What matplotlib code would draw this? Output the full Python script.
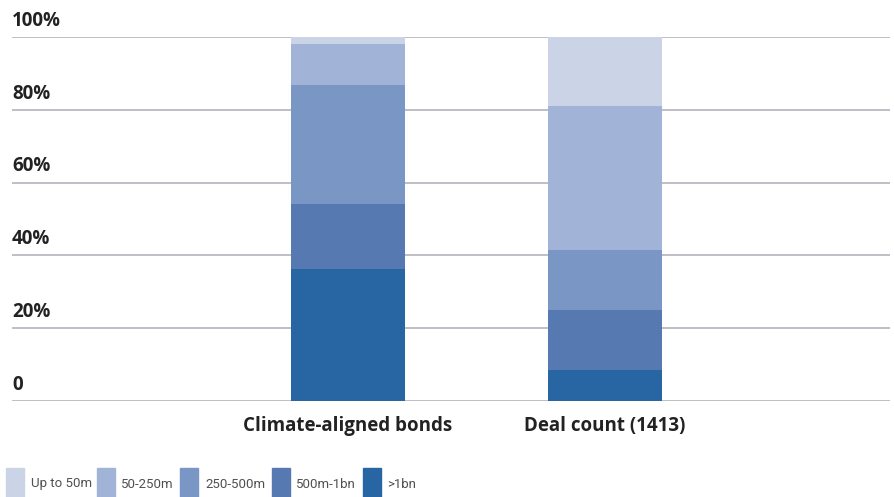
import matplotlib
matplotlib.use('Agg')
import matplotlib.pyplot as plt
from matplotlib.patches import Rectangle

# data (share of total, %)
categories = ['Climate-aligned bonds', 'Deal count (1413)']
series_names = ['>1bn', '500m-1bn', '250-500m', '50-250m', 'Up to 50m']
gt_1bn = [36.3, 8.5]
m500_1bn = [17.8, 16.5]
m250_500 = [32.7, 16.5]
m50_250 = [11.3, 39.5]
up_to_50m = [1.9, 19.0]
yticks = [0, 20, 40, 60, 80, 100]
ytick_labels = ['0', '20%', '40%', '60%', '80%', '100%']

colors = ['#2766A3', '#5679B1', '#7A96C4', '#A1B3D7', '#CBD4E7']
series = [gt_1bn, m500_1bn, m250_500, m50_250, up_to_50m]

W, H = 895, 497
fig = plt.figure(figsize=(W / 100, H / 100), dpi=100)
ax = fig.add_axes([12 / W, 96 / H, 878 / W, 364 / H])

x = list(range(len(categories)))
bottom = [0.0] * len(categories)
for vals, col in zip(series, colors):
    ax.bar(x, vals, width=0.444, bottom=bottom, color=col, zorder=2)
    bottom = [b + v for b, v in zip(bottom, vals)]

ax.set_xlim(-1.307, 2.109)
ax.set_ylim(0, 100)
for s in ax.spines.values():
    s.set_visible(False)
ax.set_xticks([])
ax.set_yticks([])

# gridlines with labels sitting above them
for yv, lab in zip(yticks, ytick_labels):
    ax.axhline(yv, color='#BEBEC6', lw=1.4, zorder=1)
    ax.annotate(lab, xy=(0, yv), xycoords=('axes fraction', 'data'),
                xytext=(0, 8), textcoords='offset points',
                ha='left', va='baseline', fontsize=13.5, fontweight='bold',
                color='#222222', family='Open Sans')

for xi, cat in zip(x, categories):
    ax.annotate(cat, xy=(xi, 0), xycoords='data', xytext=(0, -18),
                textcoords='offset points', ha='center', va='center',
                fontsize=13.5, fontweight='bold', color='#222222',
                family='Open Sans')

# legend
legend_order = list(zip(series_names, colors))[::-1]
box_x = [6, 97, 180, 272, 363]
text_x = [31, 121, 205, 296, 387]
for (name, col), bx, tx in zip(legend_order, box_x, text_x):
    fig.patches.append(Rectangle((bx / W, 0), 18 / W, 29 / H, color=col,
                                 transform=fig.transFigure, figure=fig))
    fig.text(tx / W, 1 - 484 / H, name, ha='left', va='center',
             fontsize=9.5, color='#505050', family='Roboto')

fig.savefig('out.png', dpi=100)
